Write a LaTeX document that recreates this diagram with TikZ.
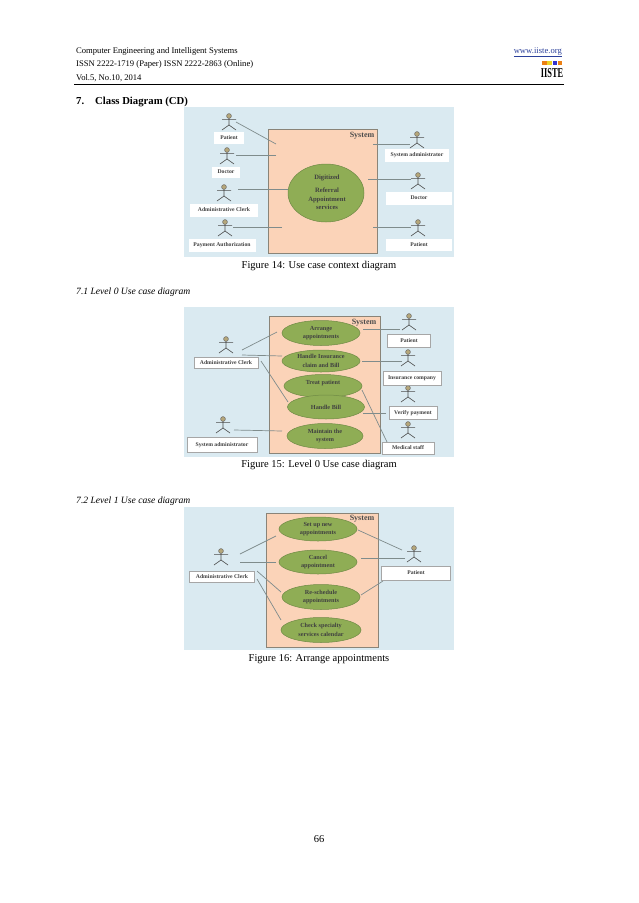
\documentclass[tikz,border=0pt]{standalone}
\usepackage{fontspec}
\setmainfont{Liberation Serif}
\usetikzlibrary{shapes.geometric}
\definecolor{panelblue}{HTML}{DAEAF1}
\definecolor{sysfill}{HTML}{FBD3B8}
\definecolor{sysline}{HTML}{8A8478}
\definecolor{usefill}{HTML}{8FAD55}
\definecolor{useline}{HTML}{6F8A45}
\definecolor{linkgray}{HTML}{7F8C8C}
\definecolor{headfill}{HTML}{B5A77A}
\definecolor{urlblue}{HTML}{2A3F9A}
\tikzset{panel/.style={fill=panelblue,draw=none}}
\tikzset{sys/.style={fill=sysfill,draw=sysline,line width=0.8pt}}
\tikzset{systext/.style={font=\fontsize{8}{8}\selectfont\bfseries,text=black!70,inner sep=0pt}}
\tikzset{usecase/.style={ellipse,fill=usefill,draw=useline,line width=0.5pt,inner sep=0pt,font=\fontsize{6.2}{8.3}\selectfont\bfseries,align=center,text=black!75}}
\tikzset{usetext/.style={usecase,draw=none,fill=none}}
\tikzset{label/.style={fill=white,inner sep=0pt,font=\fontsize{5.7}{6}\selectfont\bfseries,text=black!75}}
\tikzset{boxed/.style={label,draw=gray!70,line width=0.6pt}}
\tikzset{link/.style={draw=linkgray,line width=0.7pt}}
\tikzset{page/.style={inner sep=0pt,anchor=base west,font=\fontsize{8.6}{10}\selectfont}}
\tikzset{secbold/.style={page,font=\fontsize{10.7}{12}\selectfont\bfseries}}
\tikzset{secital/.style={page,font=\fontsize{9.6}{12}\selectfont\itshape}}
\tikzset{caption/.style={inner sep=0pt,anchor=base,font=\fontsize{10.5}{12}\selectfont}}
\tikzset{actor/.pic={
  \draw [fill=headfill,draw=gray!80!black,line width=0.5pt] (0,0) circle (2.4);
  \draw [gray!60!black,line width=0.6pt] (-7,3.6) -- (7,3.6) (0,2.4) -- (0,9) (-7,14) -- (0,9) -- (7,14);
}}
\begin{document}
\begin{tikzpicture}[x=1pt,y=-1pt]
  \useasboundingbox (0,0) rectangle (638,903);
  % page head
  \node [page] (head1) at (76,53) {Computer Engineering and Intelligent Systems};
  \node [page] (head2) at (76,66) {ISSN 2222-1719 (Paper) ISSN 2222-2863 (Online)};
  \node [page] (head3) at (76,80) {Vol.5, No.10, 2014};
  \node [page,anchor=base east,text=urlblue] (url) at (562,53) {\underline{www.iiste.org}};
  \coordinate (ruleL) at (74,84.5);
  \coordinate (ruleR) at (564,84.5) edge [black,line width=0.8pt] (ruleL);
  \fill [orange!70!brown] (542,60.5) rectangle (547,65);
  \fill [yellow!70!brown] (547,60.5) rectangle (552,65);
  \fill [blue!60!gray] (553,60.5) rectangle (557,65);
  \fill [orange!70!brown] (558,60.5) rectangle (561.5,65);
  \node [inner sep=0pt,font=\fontsize{13.5}{13.5}\selectfont\bfseries,xscale=0.62] (logo) at (552,73) {IISTE};
  \node [secbold] (sec7) at (76,104) {7.};
  \node [secbold] (sec7t) at (95,104) {Class Diagram (CD)};

  % figure 14
  \fill [panel] (184,107) rectangle (454,257);
  \draw [sys] (268,129) rectangle (377,253);
  \node [systext] (sysA) at (362,136) {System};
  \node [usecase,minimum width=76,minimum height=58] (digi) at (326,193) {};
  \node [usetext,font=\fontsize{6.6}{8.2}\selectfont\bfseries] (digiT) at (327,192) {Digitized\\[5.5pt]Referral\\Appointment\\services};
  \pic (aPat) at (229,116) {actor};
  \pic (aDoc) at (227,150) {actor};
  \pic (aClk) at (224,187) {actor};
  \pic (aPay) at (225,222) {actor};
  \pic (aSys) at (417,134) {actor};
  \pic (aDoc2) at (418,175) {actor};
  \pic (aPat2) at (418,222) {actor};
  \node [label,minimum width=30,minimum height=12] (lPat) at (229,138) {Patient};
  \node [label,minimum width=28,minimum height=11] (lDoc) at (226,172) {Doctor};
  \node [label,minimum width=68,minimum height=13] (lClk) at (224,210) {Administrative Clerk};
  \node [label,minimum width=67,minimum height=13] (lPay) at (222,245) {Payment Authorization};
  \node [label,minimum width=64,minimum height=13] (lSys) at (417,155) {System administrator};
  \node [label,minimum width=66,minimum height=13] (lDoc2) at (419,198) {Doctor};
  \node [label,minimum width=66,minimum height=12] (lPat2) at (419,245) {Patient};
  \coordinate (p1) at (236,122);
  \coordinate (p2) at (276,144) edge [link] (p1);
  \coordinate (p3) at (236,155);
  \coordinate (p4) at (276,155) edge [link] (p3);
  \coordinate (p5) at (238,189);
  \coordinate (p6) at (288,189) edge [link] (p5);
  \coordinate (p7) at (233,227);
  \coordinate (p8) at (282,227) edge [link] (p7);
  \coordinate (p9) at (373,144);
  \coordinate (p10) at (410,144) edge [link] (p9);
  \coordinate (p11) at (368,179);
  \coordinate (p12) at (411,179) edge [link] (p11);
  \coordinate (p13) at (373,227);
  \coordinate (p14) at (411,227) edge [link] (p13);
  \node [caption] (cap14) at (319,268) {Figure 14: Use case context diagram};

  \node [secital] (sec71) at (76,294) {7.1 Level 0 Use case diagram};

  % figure 15
  \fill [panel] (184,307) rectangle (454,457);
  \draw [sys] (269,316) rectangle (380,453);
  \node [systext] (sysB) at (364,323) {System};
  \node [usecase,minimum width=78,minimum height=25] (arrange) at (321,333) {Arrange\\appointments};
  \node [usecase,minimum width=78,minimum height=22] (insur) at (321,361) {Handle Insurance\\claim and Bill};
  \node [usecase,minimum width=78,minimum height=23] (treat) at (323,386) {};
  \node [usetext] (treatT) at (323,383) {Treat patient};
  \node [usecase,minimum width=77,minimum height=24] (bill) at (326,407) {};
  \node [usetext] (billT) at (326,407) {Handle Bill};
  \node [usecase,minimum width=76,minimum height=25] (maint) at (325,436) {Maintain the\\system};
  \pic (bClk) at (226,339) {actor};
  \pic (bPat) at (409,316) {actor};
  \pic (bIns) at (408,352) {actor};
  \pic (bVer) at (408,388) {actor};
  \pic (bMed) at (408,424) {actor};
  \pic (bSys) at (223,419) {actor};
  \node [boxed,minimum width=64,minimum height=11] (mClk) at (226,363) {Administrative Clerk};
  \node [boxed,minimum width=43,minimum height=13] (mPat) at (409,341) {Patient};
  \node [boxed,minimum width=58,minimum height=14] (mIns) at (412,378) {Insurance company};
  \node [boxed,minimum width=48,minimum height=13] (mVer) at (413,413) {Verify payment};
  \node [boxed,minimum width=52,minimum height=12] (mMed) at (408,448) {Medical staff};
  \node [boxed,minimum width=70,minimum height=15] (mSys) at (222,445) {System administrator};
  \coordinate (q1) at (242,350);
  \coordinate (q2) at (277,332) edge [link] (q1);
  \coordinate (q3) at (242,355);
  \coordinate (q4) at (282,356) edge [link] (q3);
  \coordinate (q5) at (261,361);
  \coordinate (q6) at (288,402) edge [link] (q5);
  \coordinate (q7) at (234,430);
  \coordinate (q8) at (282,431) edge [link] (q7);
  \coordinate (q9) at (363,329);
  \coordinate (q10) at (400,329) edge [link] (q9);
  \coordinate (q11) at (362,361);
  \coordinate (q12) at (402,361) edge [link] (q11);
  \coordinate (q13) at (362,390);
  \coordinate (q14) at (387,442) edge [link] (q13);
  \coordinate (q15) at (363,413);
  \coordinate (q16) at (386,413) edge [link] (q15);
  \node [caption] (cap15) at (319,467) {Figure 15: Level 0 Use case diagram};

  \node [secital] (sec72) at (76,503) {7.2 Level 1 Use case diagram};

  % figure 16
  \fill [panel] (184,507) rectangle (454,650);
  \draw [sys] (266,513) rectangle (378,647);
  \node [systext] (sysC) at (362,519) {System};
  \node [usecase,minimum width=78,minimum height=24] (setup) at (318,529) {Set up new\\appointments};
  \node [usecase,minimum width=78,minimum height=24] (cancel) at (318,562) {Cancel\\appointment};
  \node [usecase,minimum width=78,minimum height=25] (resch) at (321,597) {Re-schedule\\appointments};
  \node [usecase,minimum width=80,minimum height=25] (check) at (321,630) {Check specialty\\services calendar};
  \pic (cClk) at (221,551) {actor};
  \pic (cPat) at (414,548) {actor};
  \node [boxed,minimum width=65,minimum height=11] (nClk) at (222,577) {Administrative Clerk};
  \node [boxed,minimum width=69,minimum height=14] (nPat) at (416,573) {Patient};
  \coordinate (r1) at (240,554);
  \coordinate (r2) at (276,536) edge [link] (r1);
  \coordinate (r3) at (240,562);
  \coordinate (r4) at (276,562) edge [link] (r3);
  \coordinate (r5) at (257,571);
  \coordinate (r6) at (281,592) edge [link] (r5);
  \coordinate (r7) at (257,579);
  \coordinate (r8) at (281,620) edge [link] (r7);
  \coordinate (r9) at (358,530);
  \coordinate (r10) at (402,550) edge [link] (r9);
  \coordinate (r11) at (361,558);
  \coordinate (r12) at (405,558) edge [link] (r11);
  \coordinate (r13) at (361,595);
  \coordinate (r14) at (383,581) edge [link] (r13);
  \node [caption] (cap16) at (319,661) {Figure 16: Arrange appointments};

  \node [caption] (pageno) at (319,842) {66};
\end{tikzpicture}
\end{document}
